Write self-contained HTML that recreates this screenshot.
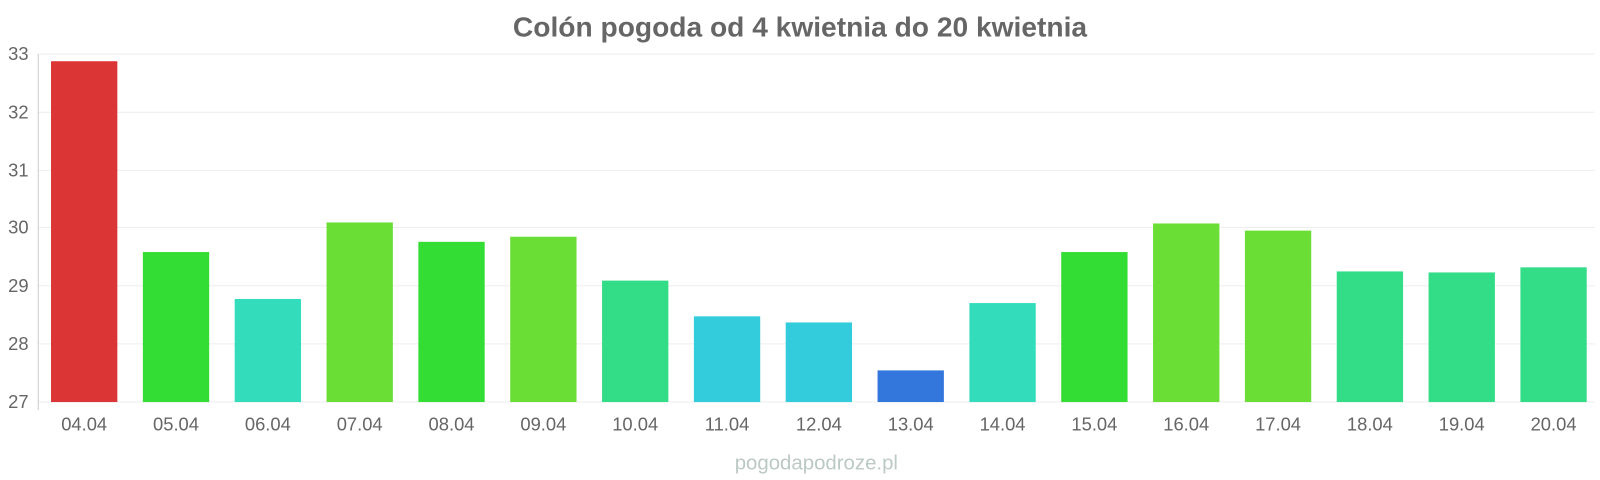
<!DOCTYPE html>
<html><head><meta charset="utf-8"><style>
html,body{margin:0;padding:0;background:#fff;}
svg{display:block;font-family:"Liberation Sans",sans-serif;}
</style></head><body>
<svg width="1600" height="480" viewBox="0 0 1568 470.4" preserveAspectRatio="none" xmlns="http://www.w3.org/2000/svg">
<text x="784" y="36" text-anchor="middle" font-size="27.6" font-weight="bold" fill="#666">Colón pogoda od 4 kwietnia do 20 kwietnia</text>
<g stroke="#eee" stroke-width="1">
<line x1="37" x2="1563" y1="53" y2="53"/>
<line x1="37" x2="1563" y1="110" y2="110"/>
<line x1="37" x2="1563" y1="167" y2="167"/>
<line x1="37" x2="1563" y1="223" y2="223"/>
<line x1="37" x2="1563" y1="280" y2="280"/>
<line x1="37" x2="1563" y1="337" y2="337"/>
<line x1="37" x2="1563" y1="394" y2="394"/>
</g>
<line x1="37.5" x2="37.5" y1="53" y2="402" stroke="#ccc"/>
<g font-size="18" fill="#666" text-anchor="end">
<text x="28" y="59">33</text><text x="28" y="116">32</text><text x="28" y="173">31</text>
<text x="28" y="229">30</text><text x="28" y="286">29</text><text x="28" y="343">28</text><text x="28" y="400">27</text>
</g>
<g>
<rect x="50" y="60" width="65" height="334" fill="#dc3535"/>
<rect x="140" y="247" width="65" height="147" fill="#33dd33"/>
<rect x="230" y="293" width="65" height="101" fill="#33ddbb"/>
<rect x="320" y="218" width="65" height="176" fill="#6ade35"/>
<rect x="410" y="237" width="65" height="157" fill="#33dd33"/>
<rect x="500" y="232" width="65" height="162" fill="#6ade35"/>
<rect x="590" y="275" width="65" height="119" fill="#33dd88"/>
<rect x="680" y="310" width="65" height="84" fill="#33ccdd"/>
<rect x="770" y="316" width="65" height="78" fill="#33ccdd"/>
<rect x="860" y="363" width="65" height="31" fill="#3377dd"/>
<rect x="950" y="297" width="65" height="97" fill="#33ddbb"/>
<rect x="1040" y="247" width="65" height="147" fill="#33dd33"/>
<rect x="1130" y="219" width="65" height="175" fill="#6ade35"/>
<rect x="1220" y="226" width="65" height="168" fill="#6ade35"/>
<rect x="1310" y="266" width="65" height="128" fill="#33dd88"/>
<rect x="1400" y="267" width="65" height="127" fill="#33dd88"/>
<rect x="1490" y="262" width="65" height="132" fill="#33dd88"/>
</g>
<g font-size="18" fill="#666" text-anchor="middle">
<text x="82.5" y="422">04.04</text><text x="172.5" y="422">05.04</text><text x="262.5" y="422">06.04</text>
<text x="352.5" y="422">07.04</text><text x="442.5" y="422">08.04</text><text x="532.5" y="422">09.04</text>
<text x="622.5" y="422">10.04</text><text x="712.5" y="422">11.04</text><text x="802.5" y="422">12.04</text>
<text x="892.5" y="422">13.04</text><text x="982.5" y="422">14.04</text><text x="1072.5" y="422">15.04</text>
<text x="1162.5" y="422">16.04</text><text x="1252.5" y="422">17.04</text><text x="1342.5" y="422">18.04</text>
<text x="1432.5" y="422">19.04</text><text x="1522.5" y="422">20.04</text>
</g>
<text x="800" y="460" text-anchor="middle" font-size="20" fill="#bcc9c4">pogodapodroze.pl</text>
</svg>
</body></html>
